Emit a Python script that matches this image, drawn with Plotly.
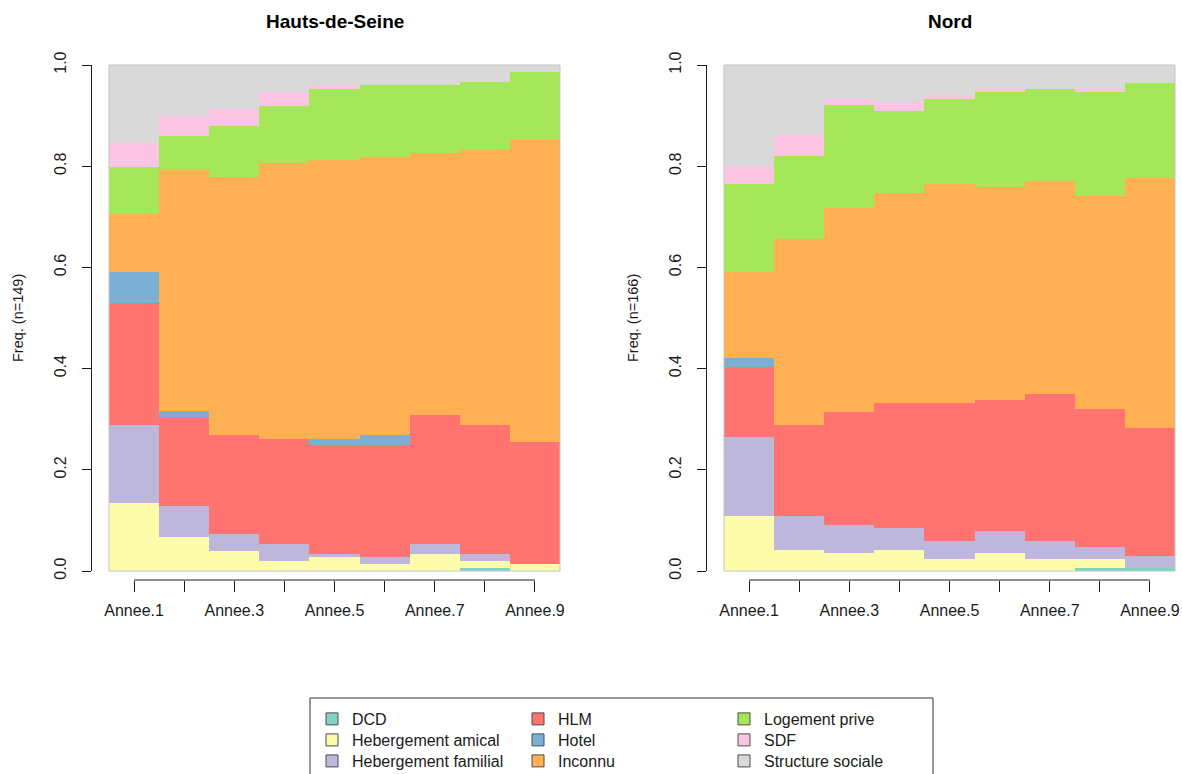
import numpy as np
import plotly.graph_objects as go

# ---------------- data ----------------
years = ["Annee.1", "Annee.2", "Annee.3", "Annee.4", "Annee.5",
         "Annee.6", "Annee.7", "Annee.8", "Annee.9"]
tick_text = ["Annee.1", "", "Annee.3", "", "Annee.5", "", "Annee.7", "", "Annee.9"]
x_pos = [1, 2, 3, 4, 5, 6, 7, 8, 9]

states = ["DCD", "Hebergement amical", "Hebergement familial", "HLM", "Hotel",
          "Inconnu", "Logement prive", "SDF", "Structure sociale"]
state_colors = ["#80d4c2", "#fcfcaa", "#bdb8db", "#ff7470", "#7bb0d5",
                "#feb052", "#a6e75a", "#fbc4e2", "#d9d9d9"]

# Hauts-de-Seine (n=149), counts per year
n_hds = 149
hds_dcd = [0, 0, 0, 0, 0, 0, 0, 1, 0]
hds_amical = [20, 10, 6, 3, 4, 2, 5, 2, 2]
hds_familial = [23, 9, 5, 5, 1, 2, 3, 2, 0]
hds_hlm = [36, 26, 29, 31, 32, 33, 38, 38, 36]
hds_hotel = [9, 2, 0, 0, 2, 3, 0, 0, 0]
hds_inconnu = [17, 71, 76, 81, 82, 82, 77, 81, 89]
hds_logement = [14, 10, 15, 17, 21, 21, 20, 20, 20]
hds_sdf = [7, 6, 5, 4, 1, 0, 0, 0, 0]
hds_structure = [23, 15, 13, 8, 6, 6, 6, 5, 2]

# Nord (n=166), counts per year
n_nord = 166
nord_dcd = [0, 0, 0, 0, 0, 0, 0, 1, 1]
nord_amical = [18, 7, 6, 7, 4, 6, 4, 3, 0]
nord_familial = [26, 11, 9, 7, 6, 7, 6, 4, 4]
nord_hlm = [23, 30, 37, 41, 45, 43, 48, 45, 42]
nord_hotel = [3, 0, 0, 0, 0, 0, 0, 0, 0]
nord_inconnu = [28, 61, 67, 69, 72, 70, 70, 70, 82]
nord_logement = [29, 27, 34, 27, 28, 31, 30, 34, 31]
nord_sdf = [6, 7, 2, 3, 1, 1, 0, 1, 0]
nord_structure = [33, 23, 11, 12, 10, 8, 8, 8, 6]

panels = [
    ("Hauts-de-Seine", n_hds, [hds_dcd, hds_amical, hds_familial, hds_hlm, hds_hotel,
                               hds_inconnu, hds_logement, hds_sdf, hds_structure]),
    ("Nord", n_nord, [nord_dcd, nord_amical, nord_familial, nord_hlm, nord_hotel,
                      nord_inconnu, nord_logement, nord_sdf, nord_structure]),
]

# ---------------- layout geometry ----------------
W, H = 1182, 774
FONT = "Liberation Sans, Arial, Helvetica, sans-serif"
INK = "#1a1a1a"

def px_x(p):
    return p / W

def px_y(p):
    return (H - p) / H

panel_left = [109, 724]
panel_width = 451
ydom = [px_y(571), px_y(65)]
xaxis_y = px_y(580)

fig = go.Figure()

for pi, (title, n, series) in enumerate(panels):
    xa = "x" if pi == 0 else "x2"
    ya = "y" if pi == 0 else "y2"
    for si, (name, col) in enumerate(zip(states, state_colors)):
        freq = np.array(series[si], dtype=float) / n
        fig.add_trace(go.Bar(
            x=x_pos, y=freq, name=name, width=1.0,
            marker=dict(color=col, line=dict(width=0)),
            xaxis=xa, yaxis=ya, showlegend=False,
            hovertemplate=name + ": %{y:.3f}<extra></extra>",
        ))

# legend entries, laid out in 3 columns x 3 rows like the R legend
legend_cols = [["DCD", "Hebergement amical", "Hebergement familial"],
               ["HLM", "Hotel", "Inconnu"],
               ["Logement prive", "SDF", "Structure sociale"]]
col_x = [312, 518, 724]
row_y = [719, 740, 761]
legend_layout = {}
k = 0
for ci, names in enumerate(legend_cols):
    for ri, nm in enumerate(names):
        k += 1
        lid = "legend" if k == 1 else "legend%d" % k
        col = state_colors[states.index(nm)]
        fig.add_trace(go.Bar(
            x=[None], y=[None], name=nm,
            marker=dict(color=col, line=dict(color="#4d4d4d", width=1)),
            xaxis="x", yaxis="y", showlegend=True, legend=lid,
            hoverinfo="skip",
        ))
        legend_layout[lid] = dict(
            xref="container", yref="container",
            x=px_x(col_x[ci]), y=px_y(row_y[ri]),
            xanchor="left", yanchor="middle", orientation="v",
            bgcolor="rgba(0,0,0,0)", borderwidth=0,
            font=dict(family=FONT, size=16, color=INK),
            itemclick=False, itemdoubleclick=False,
        )

def xaxis_def(left):
    return dict(
        domain=[px_x(left), px_x(left + panel_width)],
        range=[0.5, 9.5], anchor="free", position=xaxis_y,
        showline=False, ticks="outside", ticklen=11, tickwidth=1, tickcolor=INK,
        tickvals=x_pos, ticktext=tick_text, ticklabelstandoff=5,
        tickfont=dict(family=FONT, size=16, color=INK),
        showgrid=False, zeroline=False, fixedrange=True, automargin=False,
    )

def yaxis_def(left):
    return dict(
        domain=ydom, range=[0, 1], anchor="free", position=px_x(left - 18),
        showline=True, linecolor=INK, linewidth=1,
        ticks="outside", ticklen=9, tickwidth=1, tickcolor=INK,
        tickvals=[0, 0.2, 0.4, 0.6, 0.8, 1.0], tickformat=".1f", tickangle=-90,
        ticklabelstandoff=10,
        tickfont=dict(family=FONT, size=16, color=INK),
        showgrid=False, zeroline=False, fixedrange=True, automargin=False,
    )

shapes = []
for left, xr, yr in [(109, "x", "y"), (724, "x2", "y2")]:
    # R-style x axis line from first to last tick
    shapes.append(dict(type="line", xref=xr, yref="paper", x0=1, x1=9,
                       y0=xaxis_y, y1=xaxis_y, line=dict(color=INK, width=1)))
    # thin light frame around bar region
    shapes.append(dict(type="rect", xref=xr + " domain", yref=yr + " domain",
                       x0=0, x1=1, y0=0, y1=1, layer="above",
                       line=dict(color="#c4c4c4", width=1)))
# legend box
shapes.append(dict(type="rect", xref="paper", yref="paper",
                   x0=px_x(310), x1=px_x(933), y0=px_y(785), y1=px_y(698),
                   line=dict(color="#333333", width=1)))

annotations = []
for left, (title, n, _) in zip(panel_left, panels):
    annotations.append(dict(
        text="<b>%s</b>" % title, xref="paper", yref="paper",
        x=px_x(left + panel_width / 2), y=px_y(22),
        xanchor="center", yanchor="middle", showarrow=False,
        font=dict(family=FONT, size=19, color="#000000"),
    ))
    # y-axis title, placed like R's ylab
    annotations.append(dict(
        text="Freq. (n=%d)" % n, xref="paper", yref="paper",
        x=px_x(left - 91), y=px_y(318), textangle=-90,
        xanchor="center", yanchor="middle", showarrow=False,
        font=dict(family=FONT, size=14.5, color=INK),
    ))

fig.update_layout(
    width=W, height=H, autosize=False,
    margin=dict(l=0, r=0, t=0, b=0, autoexpand=False),
    paper_bgcolor="white", plot_bgcolor="white",
    barmode="stack", bargap=0,
    xaxis=xaxis_def(109), yaxis=yaxis_def(109),
    xaxis2=xaxis_def(724), yaxis2=yaxis_def(724),
    shapes=shapes, annotations=annotations,
    font=dict(family=FONT, color=INK),
    **legend_layout,
)

fig.write_html("out.html")
